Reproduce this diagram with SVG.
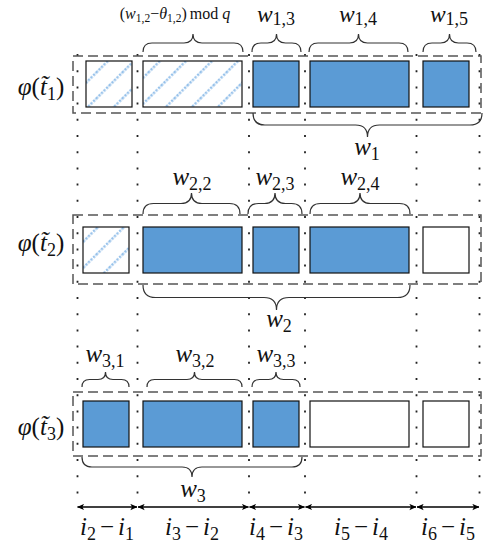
<svg xmlns="http://www.w3.org/2000/svg" width="489" height="544" viewBox="0 0 489 544">
<defs>
<style>
.lbl{font-family:"Liberation Serif","DejaVu Serif",serif;font-style:italic;font-size:25px;fill:#111}
.lt{font-size:23.5px}
.sub{font-size:18px;font-style:normal}
.rm{font-style:normal}
.top{font-family:"Liberation Serif","DejaVu Serif",serif;font-style:italic;font-size:16px;fill:#111}
.tsub{font-size:11.5px;font-style:normal}
.box{fill:none;stroke:#555;stroke-width:1.5;stroke-dasharray:10 5}
.blue{fill:#5b9bd5;stroke:#111;stroke-width:1.2}
.white{fill:#fff;stroke:#111;stroke-width:1.2}
.hatch{fill:url(#hatch);stroke:#111;stroke-width:1.2}
.brace{fill:none;stroke:#333;stroke-width:1.2}
.dot{stroke:#222;stroke-width:1.8;stroke-dasharray:2 14.2}
.arrow{stroke:#000;stroke-width:1.3;marker-start:url(#ah);marker-end:url(#ah)}
</style>
<pattern id="hatch" patternUnits="userSpaceOnUse" width="18.4" height="18.4" patternTransform="rotate(45)">
<rect width="18.4" height="18.4" fill="#fff"/>
<line x1="9" y1="0" x2="9" y2="18.4" stroke="#94c0ea" stroke-width="2.4" stroke-dasharray="2.3 1.3"/>
</pattern>
<marker id="ah" viewBox="0 0 10 10" refX="9.5" refY="5" markerWidth="7" markerHeight="7" markerUnits="userSpaceOnUse" orient="auto-start-reverse">
<path d="M0,0.5 L10,5 L0,9.5 L2.5,5 Z" fill="#000"/>
</marker>
</defs>
<rect width="489" height="544" fill="#fff"/>

<g id="guides">
<line class="dot" x1="77.5" y1="54" x2="77.5" y2="500"/>
<line class="dot" x1="137.5" y1="54" x2="137.5" y2="500"/>
<line class="dot" x1="249" y1="54" x2="249" y2="500"/>
<line class="dot" x1="305" y1="54" x2="305" y2="500"/>
<line class="dot" x1="416.5" y1="54" x2="416.5" y2="500"/>
<line class="dot" x1="479.5" y1="54" x2="479.5" y2="500"/>
</g>

<g id="row1">
<rect class="box" x="73" y="56" width="408" height="57"/>
<rect class="hatch" x="86" y="61" width="46" height="46"/>
<rect class="hatch" x="143" y="61" width="99" height="46"/>
<rect class="blue" x="253" y="61" width="46" height="46"/>
<rect class="blue" x="310" y="61" width="99" height="46"/>
<rect class="blue" x="423" y="61" width="46" height="46"/>
<text class="lbl" x="41" y="95" text-anchor="middle">φ<tspan class="rm">(</tspan>t̃<tspan class="sub" dy="5">1</tspan><tspan class="rm" dy="-5">)</tspan></text>
</g>

<g id="row2">
<rect class="box" x="73" y="215" width="408" height="69"/>
<rect class="hatch" x="83" y="227" width="46" height="46"/>
<rect class="blue" x="143" y="227" width="99" height="46"/>
<rect class="blue" x="253" y="227" width="46" height="46"/>
<rect class="blue" x="310" y="227" width="99" height="46"/>
<rect class="white" x="423" y="227" width="46" height="46"/>
<text class="lbl" x="41" y="251" text-anchor="middle">φ<tspan class="rm">(</tspan>t̃<tspan class="sub" dy="5">2</tspan><tspan class="rm" dy="-5">)</tspan></text>
</g>

<g id="row3">
<rect class="box" x="73" y="392" width="408" height="64"/>
<rect class="blue" x="83" y="401" width="46" height="46"/>
<rect class="blue" x="143" y="401" width="99" height="46"/>
<rect class="blue" x="253" y="401" width="46" height="46"/>
<rect class="white" x="310" y="401" width="99" height="46"/>
<rect class="white" x="423" y="401" width="46" height="46"/>
<text class="lbl" x="41" y="435" text-anchor="middle">φ<tspan class="rm">(</tspan>t̃<tspan class="sub" dy="5">3</tspan><tspan class="rm" dy="-5">)</tspan></text>
</g>

<g id="braces">
<path class="brace" d="M143,52 Q143,43 152,43 L184,43 Q193,43 193,34 Q193,43 202,43 L234,43 Q243,43 243,52"/>
<path class="brace" d="M252,52 Q252,43 261,43 L267.5,43 Q276.5,43 276.5,34 Q276.5,43 285.5,43 L292,43 Q301,43 301,52"/>
<path class="brace" d="M309,52 Q309,43 318,43 L349.5,43 Q358.5,43 358.5,34 Q358.5,43 367.5,43 L399,43 Q408,43 408,52"/>
<path class="brace" d="M423,52 Q423,43 432,43 L440.5,43 Q449.5,43 449.5,34 Q449.5,43 458.5,43 L467,43 Q476,43 476,52"/>
<path class="brace" d="M253,113 Q253,125 265,125 L355.5,125 Q367.5,125 367.5,137 Q367.5,125 379.5,125 L470,125 Q482,125 482,113"/>
<path class="brace" d="M143,214 Q143,203.5 153.5,203.5 L181,203.5 Q191.5,203.5 191.5,193 Q191.5,203.5 202,203.5 L229.5,203.5 Q240,203.5 240,214"/>
<path class="brace" d="M248,214 Q248,203.5 258.5,203.5 L264.5,203.5 Q275,203.5 275,193 Q275,203.5 285.5,203.5 L291.5,203.5 Q302,203.5 302,214"/>
<path class="brace" d="M310,214 Q310,203.5 320.5,203.5 L349.5,203.5 Q360,203.5 360,193 Q360,203.5 370.5,203.5 L399.5,203.5 Q410,203.5 410,214"/>
<path class="brace" d="M143,285 Q143,297.5 155.5,297.5 L264,297.5 Q276.5,297.5 276.5,310 Q276.5,297.5 289,297.5 L397.5,297.5 Q410,297.5 410,285"/>
<path class="brace" d="M82,387 Q82,379.5 89.5,379.5 L98,379.5 Q105.5,379.5 105.5,372 Q105.5,379.5 113,379.5 L121.5,379.5 Q129,379.5 129,387"/>
<path class="brace" d="M147,387 Q147,379.5 154.5,379.5 L187,379.5 Q194.5,379.5 194.5,372 Q194.5,379.5 202,379.5 L234.5,379.5 Q242,379.5 242,387"/>
<path class="brace" d="M252,387 Q252,379.5 259.5,379.5 L268.5,379.5 Q276,379.5 276,372 Q276,379.5 283.5,379.5 L292.5,379.5 Q300,379.5 300,387"/>
<path class="brace" d="M82,457 Q82,467 92,467 L182,467 Q192,467 192,477 Q192,467 202,467 L292,467 Q302,467 302,457"/>
</g>

<g id="brace-labels">
<text class="top" x="175" y="19" text-anchor="middle"><tspan class="rm">(</tspan>w<tspan class="tsub" dy="3">1,2</tspan><tspan class="rm" dy="-3">−</tspan>θ<tspan class="tsub" dy="3">1,2</tspan><tspan class="rm" dy="-3">)</tspan><tspan class="rm" dx="3">mod</tspan><tspan dx="4">q</tspan></text>
<text class="lbl lt" x="276" y="22" text-anchor="middle">w<tspan class="sub" dy="3">1,3</tspan></text>
<text class="lbl lt" x="358" y="22" text-anchor="middle">w<tspan class="sub" dy="3">1,4</tspan></text>
<text class="lbl lt" x="449" y="22" text-anchor="middle">w<tspan class="sub" dy="3">1,5</tspan></text>
<text class="lbl" x="367" y="155" text-anchor="middle">w<tspan class="sub" dy="5">1</tspan></text>
<text class="lbl" x="192" y="185" text-anchor="middle">w<tspan class="sub" dy="5">2,2</tspan></text>
<text class="lbl" x="275" y="185" text-anchor="middle">w<tspan class="sub" dy="5">2,3</tspan></text>
<text class="lbl" x="360" y="185" text-anchor="middle">w<tspan class="sub" dy="5">2,4</tspan></text>
<text class="lbl" x="279" y="327" text-anchor="middle">w<tspan class="sub" dy="5">2</tspan></text>
<text class="lbl" x="105" y="362" text-anchor="middle">w<tspan class="sub" dy="5">3,1</tspan></text>
<text class="lbl" x="195" y="362" text-anchor="middle">w<tspan class="sub" dy="5">3,2</tspan></text>
<text class="lbl" x="276" y="362" text-anchor="middle">w<tspan class="sub" dy="5">3,3</tspan></text>
<text class="lbl" x="193" y="497" text-anchor="middle">w<tspan class="sub" dy="5">3</tspan></text>
</g>

<g id="connectors">
<line class="arrow" x1="77.5" y1="507" x2="137" y2="507"/>
<line class="arrow" x1="138" y1="507" x2="248.5" y2="507"/>
<line class="arrow" x1="249.5" y1="507" x2="304.5" y2="507"/>
<line class="arrow" x1="305.5" y1="507" x2="416" y2="507"/>
<line class="arrow" x1="417" y1="507" x2="479" y2="507"/>
</g>

<g id="interval-labels">
<text class="lbl" x="107" y="535" text-anchor="middle">i<tspan class="sub" dy="5">2</tspan><tspan class="rm" dy="-5" dx="4">−</tspan><tspan dx="4">i</tspan><tspan class="sub" dy="5">1</tspan></text>
<text class="lbl" x="192" y="535" text-anchor="middle">i<tspan class="sub" dy="5">3</tspan><tspan class="rm" dy="-5" dx="4">−</tspan><tspan dx="4">i</tspan><tspan class="sub" dy="5">2</tspan></text>
<text class="lbl" x="276" y="535" text-anchor="middle">i<tspan class="sub" dy="5">4</tspan><tspan class="rm" dy="-5" dx="4">−</tspan><tspan dx="4">i</tspan><tspan class="sub" dy="5">3</tspan></text>
<text class="lbl" x="361" y="535" text-anchor="middle">i<tspan class="sub" dy="5">5</tspan><tspan class="rm" dy="-5" dx="4">−</tspan><tspan dx="4">i</tspan><tspan class="sub" dy="5">4</tspan></text>
<text class="lbl" x="448" y="535" text-anchor="middle">i<tspan class="sub" dy="5">6</tspan><tspan class="rm" dy="-5" dx="4">−</tspan><tspan dx="4">i</tspan><tspan class="sub" dy="5">5</tspan></text>
</g>
</svg>
